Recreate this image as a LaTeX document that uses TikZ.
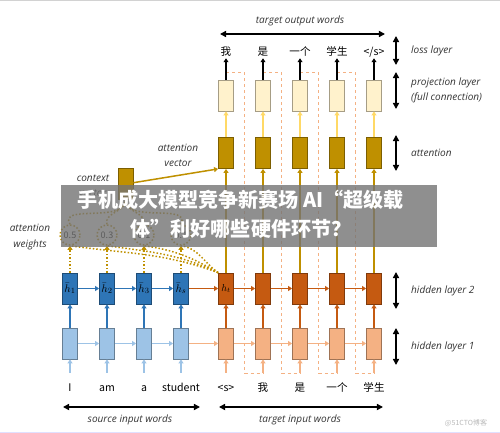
\documentclass[tikz,border=0pt]{standalone}
\usepackage{fontspec}
\setmainfont{Open Sans}
\newfontfamily\cjk{Noto Sans CJK SC}
\usetikzlibrary{arrows.meta, calc}
\definecolor{hidblue}{HTML}{2E75B6}
\definecolor{lightblue}{HTML}{9DC3E6}
\definecolor{hidorange}{HTML}{C55A11}
\definecolor{lightorange}{HTML}{F4B183}
\definecolor{attgold}{HTML}{BF9000}
\definecolor{projyellow}{HTML}{FFF2CC}
\definecolor{arryellow}{HTML}{FFD966}

\begin{document}
\begin{tikzpicture}[x=0.035cm, y=-0.035cm,
    cell/.style={draw=#1!65!black, fill=#1, line width=0.8pt, minimum width=0.525cm, minimum height=1.085cm, inner sep=0pt, font=\fontsize{11}{11}\selectfont},
    flow/.style={draw=#1, line width=1.5pt, -{Triangle[length=4pt, width=5pt]}},
    dots/.style={draw=attgold, dotted, line width=1.5pt},
    dotflow/.style={dots, -{Triangle[length=4pt, width=5pt]}},
    feed/.style={draw=lightorange, dashed, line width=1.2pt},
    span/.style={line width=1.6pt, {Triangle[length=6pt, width=6pt]}-{Triangle[length=6pt, width=6pt]}},
    word/.style={font=\fontsize{10.5}{12}\selectfont\cjk, inner sep=1pt, text height=8pt, text depth=2pt},
    lbl/.style={font=\fontsize{10}{15}\selectfont\itshape, text=black!80},
    weight/.style={circle, draw=attgold, dotted, line width=1.5pt, minimum size=0.7cm, inner sep=0pt, font=\fontsize{9}{9}\selectfont\cjk}]
    \useasboundingbox (0,0) rectangle (500,433);
    \draw[gray!35, line width=0.8pt] (0,0.5) -- (500,0.5);
    \draw[blue!12, line width=1pt] (0,432) -- (500,432);

    \foreach \x/\s/\v/\t [count=\i] in {70/1/0.5/I, 107/2/0.3/am, 144/3/0.1/a, 181/s/0.1/student}{
        \node[cell=lightblue] (h1s\i) at (\x,343.5) {};
        \node[cell=hidblue] (h2s\i) at (\x,288.5) {$\bar{h}_{\s}$};
        \node[weight] (w\i) at (\x,235) {\v};
        \node[word] (ins\i) at (\x,388) {\t};
    }
    \foreach \x/\t/\o [count=\i] in {226/{<s>}/我, 263/我/是, 300/是/一个, 337/一个/学生, 374/学生/{</s>}}{
        \node[cell=lightorange] (h1t\i) at (\x,343.5) {};
        \node[cell=hidorange] (h2t\i) at (\x,288.5) {};
        \node[cell=attgold] (att\i) at (\x,153) {};
        \node[cell=projyellow] (proj\i) at (\x,95.5) {};
        \node[word] (int\i) at (\x,388) {\t};
        \node[word] (out\i) at (\x,52) {\o};
    }
    \node at (h2t1) {$h_t$};
    \node[cell=attgold] (ctx) at (125.5,184) {};

    \foreach \i/\j in {1/2,2/3,3/4,4/5}
        \draw[feed] ($(proj\i.north)+(0,-7)$) -| ($(h1t\i.south)!0.5!(h1t\j.south)+(0,14)$) -- ($(h1t\j.south)+(0,14)$);

    \foreach \i in {1,...,4}{
        \draw[flow=lightblue, shorten <=9pt] (ins\i) -- (h1s\i);
        \draw[flow=hidblue] (h1s\i) -- (h2s\i);
        \draw[dotflow] (h2s\i) -- (w\i);
    }
    \foreach \i/\j in {1/2,2/3,3/4}{
        \draw[flow=lightblue] (h1s\i) -- (h1s\j);
        \draw[flow=hidblue] (h2s\i) -- (h2s\j);
    }
    \draw[flow=lightorange] (h1s4) -- (h1t1);
    \draw[flow=hidorange] (h2s4) -- (h2t1);
    \foreach \i/\j in {1/2,2/3,3/4,4/5}{
        \draw[flow=lightorange] (h1t\i) -- (h1t\j);
        \draw[flow=hidorange] (h2t\i) -- (h2t\j);
    }
    \foreach \i in {1,...,5}{
        \draw[flow=lightorange, shorten <=9pt] (int\i) -- (h1t\i);
        \draw[flow=hidorange] (h1t\i) -- (h2t\i);
        \draw[flow=attgold] (h2t\i) -- (att\i);
        \draw[flow=arryellow] (att\i) -- (proj\i);
        \draw[flow=black] (proj\i) -- (out\i);
    }
    \draw[flow=attgold] (ctx) -- (att1.south west);

    \foreach \i/\o in {1/160,2/155,3/150,4/145}
        \draw[dots] (h2t1.north west) to[out=\o, in=-8] (w\i.south);
    \foreach \i/\o in {1/120,2/105,3/80,4/65}
        \draw[dots] (w\i.north) to[out=\o, in=-90] (ctx.south);

    \node[lbl, align=center] (ctxlbl) at (93,186) {context\\vector};
    \node[lbl, align=center] (attlbl) at (178,155) {attention\\vector};
    \node[lbl, align=center] (wlbl) at (30,237) {attention\\weights};

    \draw[span] (220,34) -- (385,34);
    \node[lbl] (toutlbl) at (300,21) {target output words};
    \draw[span] (63,407) -- (200,407);
    \node[lbl] (sinlbl) at (130,420) {source input words};
    \draw[span] (219,407) -- (383,407);
    \node[lbl] (tinlbl) at (300,420) {target input words};

    \foreach \a/\b/\t in {36/65/loss layer, 72/109/{projection layer\\(full connection)}, 135/171/attention, 272/309/hidden layer 2, 328/365/hidden layer 1}
        \draw[span] (396,\a) -- (396,\b) node[lbl, align=left, midway, anchor=west, xshift=11pt] {\t};

    \fill[black!55, opacity=0.8] (61,185) rectangle (437,247);
    \node[text=white, font=\fontsize{20}{29}\selectfont\cjk\bfseries, align=center] (title) at (241,214) {手机成大模型竞争新赛场 AI“超级载\\体”利好哪些硬件环节？};
    \node[text=gray!55, font=\fontsize{7}{7}\selectfont\cjk] (mark) at (466,423) {@51CTO博客};
\end{tikzpicture}
\end{document}
